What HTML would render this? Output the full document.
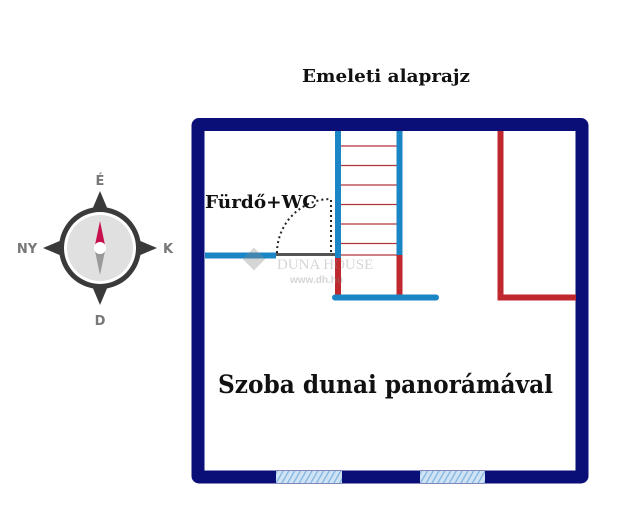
<!DOCTYPE html>
<html><head><meta charset="utf-8"><style>
html,body{margin:0;padding:0;background:#fff;width:640px;height:530px;overflow:hidden}
</style></head><body>
<svg width="640" height="530" viewBox="0 0 640 530" xmlns="http://www.w3.org/2000/svg">
<defs>
<pattern id="h" width="5" height="5" patternUnits="userSpaceOnUse" patternTransform="rotate(30)">
<rect width="5" height="5" fill="#cfe3f5"/><line x1="0" y1="0" x2="0" y2="5" stroke="#7fb3e0" stroke-width="2.5"/>
</pattern>
</defs>
<text x="302" y="82" font-family="DejaVu Serif,serif" font-weight="bold" font-size="18" textLength="168" lengthAdjust="spacingAndGlyphs" fill="#111">Emeleti alaprajz</text>
<rect x="198" y="124.5" width="384" height="352.5" fill="none" stroke="#0a0f78" stroke-width="13" rx="1"/>
<rect x="276" y="471" width="66" height="12" fill="url(#h)"/>
<rect x="420" y="471" width="65" height="12" fill="url(#h)"/>
<g stroke="#b0343a" stroke-width="1.2">
<line x1="341" y1="146" x2="397" y2="146"/><line x1="341" y1="165.5" x2="397" y2="165.5"/>
<line x1="341" y1="185" x2="397" y2="185"/><line x1="341" y1="204.5" x2="397" y2="204.5"/>
<line x1="341" y1="224" x2="397" y2="224"/><line x1="341" y1="243.5" x2="397" y2="243.5"/>
<line x1="341" y1="255" x2="397" y2="255"/>
</g>
<g stroke="#c0282f" stroke-width="6" fill="none">
<line x1="338" y1="255" x2="338" y2="297"/>
<line x1="399.5" y1="255" x2="399.5" y2="297"/>
<polyline points="500.5,131 500.5,297.5 576,297.5"/>
</g>
<g stroke="#1b86c6" stroke-width="6" fill="none" stroke-linecap="butt">
<line x1="338" y1="131" x2="338" y2="258"/>
<line x1="399.5" y1="131" x2="399.5" y2="255"/>
<line x1="205" y1="255.5" x2="276" y2="255.5"/>
<line x1="335" y1="297.5" x2="436" y2="297.5" stroke-linecap="round"/>
</g>
<line x1="276" y1="254.5" x2="335" y2="254.5" stroke="#555" stroke-width="3"/>
<path d="M277,253 A54,54 0 0 1 331,199" fill="none" stroke="#222" stroke-width="2" stroke-dasharray="2,3"/>
<line x1="331" y1="200" x2="331" y2="253" stroke="#222" stroke-width="2" stroke-dasharray="2,3"/>
<text x="205" y="208" font-family="DejaVu Serif,serif" font-weight="bold" font-size="18" textLength="112" lengthAdjust="spacingAndGlyphs" fill="#111">Fürdő+WC</text>
<g opacity="0.35" fill="#888">
<rect x="246" y="251" width="16" height="16" transform="rotate(45 254 259)"/>
<text x="277" y="269" font-family="Liberation Serif,serif" font-size="15">DUNA HOUSE</text>
<text x="290" y="283" font-family="Liberation Sans,sans-serif" font-weight="bold" font-size="10">www.dh.hu</text>
</g>
<text x="218" y="393" font-family="DejaVu Serif,serif" font-weight="bold" font-size="25" textLength="335" lengthAdjust="spacingAndGlyphs" fill="#111">Szoba dunai panorámával</text>
<g transform="translate(100,248)">
<polygon points="0,-57 8,-38 -8,-38" fill="#3a3a3a"/>
<polygon points="0,57 8,38 -8,38" fill="#3a3a3a"/>
<polygon points="-57,0 -38,8 -38,-8" fill="#3a3a3a"/>
<polygon points="57,0 38,8 38,-8" fill="#3a3a3a"/>
<circle r="41" fill="#3a3a3a"/>
<circle r="36" fill="#fff"/>
<circle r="33" fill="#e0e0e0"/>
<polygon points="0,-27 5,-3 -5,-3" fill="#c8104f"/>
<polygon points="0,27 5,3 -5,3" fill="#999"/>
<circle r="6" fill="#fff"/>
</g>
<g font-family="DejaVu Sans,sans-serif" font-weight="bold" font-size="13" fill="#777" text-anchor="middle">
<text x="100" y="185">É</text>
<text x="100" y="325">D</text>
<text x="27" y="253">NY</text>
<text x="168" y="253">K</text>
</g>
</svg>
</body></html>
